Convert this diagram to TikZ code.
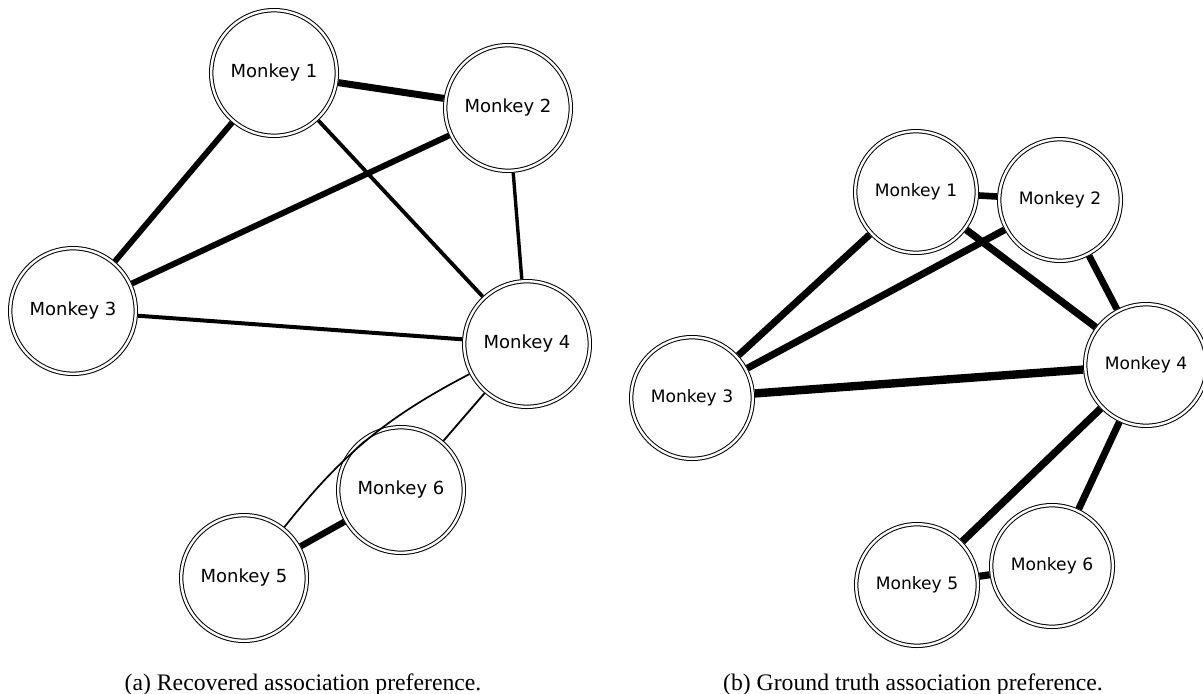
\documentclass[tikz,border=0pt]{standalone}
\usepackage{fontspec}
\setmainfont{Liberation Serif}
\newfontfamily\monkeyfont{DejaVu Sans}
\tikzset{
  monkey/.style={circle, draw, double, double distance=1.2pt, line width=0.5pt,
    fill=white, inner sep=0pt, outer sep=1.1pt, minimum size=62.8pt,
    font=\monkeyfont\fontsize{9}{10}\selectfont},
  truemonkey/.style={monkey, minimum size=60.8pt,
    font=\monkeyfont\fontsize{8.55}{10}\selectfont},
  subcap/.style={anchor=base, font=\fontsize{11.85}{14}\selectfont}
}

\begin{document}
\begin{tikzpicture}[x=50pt, y=50pt]
\useasboundingbox (0,0) rectangle (12.03,6.93);
\node[monkey] (a1) at (2.74,6.20) {Monkey 1};
\node[monkey] (a2) at (5.08,5.85) {Monkey 2};
\node[monkey] (a3) at (0.73,3.82) {Monkey 3};
\node[monkey] (a4) at (5.27,3.49) {Monkey 4};
\node[monkey] (a5) at (2.44,1.15) {Monkey 5};
\node[monkey] (a6) at (4.01,2.03) {Monkey 6};
\draw[line width=3.5pt] (a1) -- (a2);
\draw[line width=2.9pt] (a1) -- (a3);
\draw[line width=3pt] (a2) -- (a3);
\draw[line width=1.9pt] (a1) -- (a4);
\draw[line width=1.7pt] (a2) -- (a4);
\draw[line width=2pt] (a3) -- (a4);
\draw[line width=0.9pt] (a4) -- (a6);
\draw[line width=0.85pt] (a5) to[bend left=12] (a4);
\draw[line width=3.2pt] (a5) -- (a6);
\node[truemonkey] (b1) at (9.16,5.01) {Monkey 1};
\node[truemonkey] (b2) at (10.60,4.93) {Monkey 2};
\node[truemonkey] (b3) at (6.92,2.95) {Monkey 3};
\node[truemonkey] (b4) at (11.46,3.28) {Monkey 4};
\node[truemonkey] (b5) at (9.17,1.08) {Monkey 5};
\node[truemonkey] (b6) at (10.52,1.27) {Monkey 6};
\draw[line width=3.3pt] (b1) -- (b2);
\draw[line width=3.5pt] (b1) -- (b3);
\draw[line width=3.5pt] (b2) -- (b3);
\draw[line width=3.6pt] (b1) -- (b4);
\draw[line width=3.4pt] (b2) -- (b4);
\draw[line width=4.2pt] (b3) -- (b4);
\draw[line width=3.7pt] (b4) -- (b5);
\draw[line width=3.5pt] (b4) -- (b6);
\draw[line width=3.6pt] (b5) -- (b6);
\node[subcap] (capa) at (3.03,0.03) {(a) Recovered association preference.};
\node[subcap] (capb) at (9.13,0.03) {(b) Ground truth association preference.};
\end{tikzpicture}
\end{document}
